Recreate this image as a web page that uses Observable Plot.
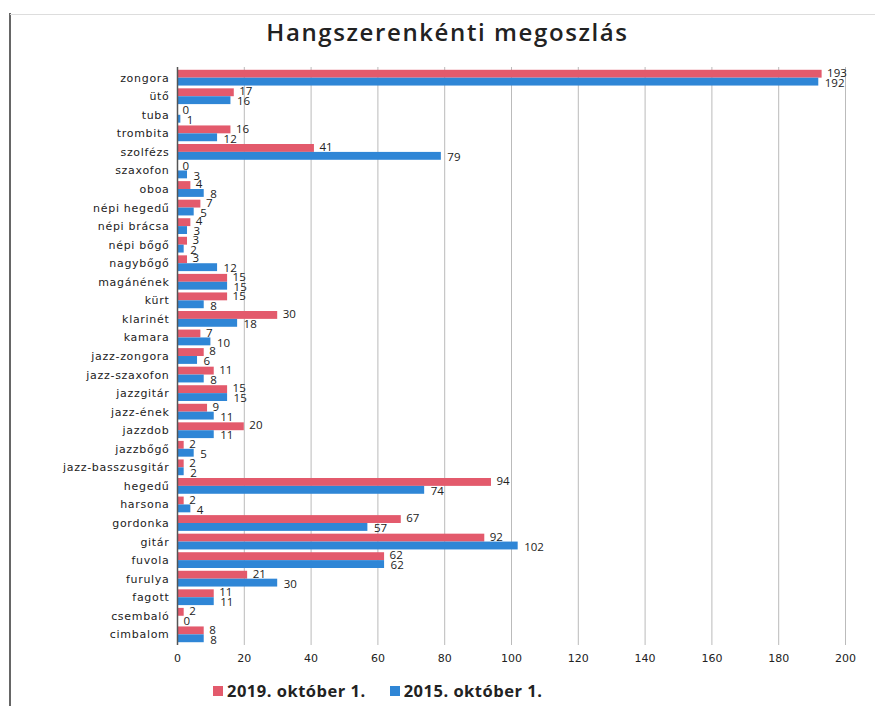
<!DOCTYPE html>
<html><head><meta charset="utf-8">
<script src="https://cdn.jsdelivr.net/npm/d3@7"></script>
<script src="https://cdn.jsdelivr.net/npm/@observablehq/plot@0.6"></script>
<style>
body{margin:0;background:#fff;width:875px;height:706px;overflow:hidden;position:relative;font-family:"Open Sans",sans-serif}
#frameL{position:absolute;left:9px;top:13px;width:2px;height:693px;background:#666}
#frameT{position:absolute;left:10px;top:14px;right:0;height:1px;background:#ddd}
#title{height:50px;box-sizing:border-box;padding-top:18px;padding-left:20px;text-align:center;font-weight:600;font-size:24px;line-height:28px;color:#222;letter-spacing:1.6px}
#chart svg{display:block}
#legend{display:flex;align-items:center;padding-left:213px;height:31px;font-weight:bold;font-size:16.5px;color:#222;letter-spacing:0.5px}
.sw{width:10px;height:10px;display:inline-block;margin-right:4px}
.item{display:flex;align-items:center;margin-right:24px}
</style></head>
<body>
<div id="frameL"></div><div id="frameT"></div>
<div id="title">Hangszerenkénti megoszlás</div>
<div id="chart"></div>
<div id="legend"></div>
<script>
const instruments = ["zongora","ütő","tuba","trombita","szolfézs","szaxofon","oboa","népi hegedű","népi brácsa","népi bőgő","nagybőgő","magánének","kürt","klarinét","kamara","jazz-zongora","jazz-szaxofon","jazzgitár","jazz-ének","jazzdob","jazzbőgő","jazz-basszusgitár","hegedű","harsona","gordonka","gitár","fuvola","furulya","fagott","csembaló","cimbalom"];
const v2019 = [193,17,0,16,41,0,4,7,4,3,3,15,15,30,7,8,11,15,9,20,2,2,94,2,67,92,62,21,11,2,8];
const v2015 = [192,16,1,12,79,3,8,5,3,2,12,15,8,18,10,6,8,15,11,11,5,2,74,4,57,102,62,30,11,0,8];
const seriesNames = ["2019. október 1.","2015. október 1."];
const xTicks = [0,20,40,60,80,100,120,140,160,180,200];
const colors = ["#e35a6c","#2f86d6"];

const rows2019 = instruments.map((k,i)=>({instrument:k, value:v2019[i]}));
const rows2015 = instruments.map((k,i)=>({instrument:k, value:v2015[i]}));

const chart = Plot.plot({
  width: 875, height: 625,
  marginLeft: 177, marginRight: 30, marginTop: 17, marginBottom: 30,
  x: {domain:[0,200], ticks: xTicks, tickSize:0, tickPadding: 9, label:null},
  y: {domain: instruments, padding: 0.15, round: false, tickSize: 0, tickPadding: 8, label: null},
  style: {fontFamily:"DejaVu Sans", fontSize:"11px", color:"#222", background:"white"},
  marks: [
    Plot.ruleX(xTicks.slice(1), {stroke:"#bbb", strokeWidth:1}),
    Plot.barX(rows2019, {y:"instrument", x:"value", fill: colors[0], insetBottom: 7.9}),
    Plot.barX(rows2015, {y:"instrument", x:"value", fill: colors[1], insetTop: 7.9}),
    Plot.ruleX([0], {stroke:"#555", strokeWidth:1.5}),
    Plot.text(rows2019, {y:"instrument", x:"value", text:"value", textAnchor:"start", dx:5, dy:-5, fontSize:11.5, fontFamily:"Open Sans", fill:"#222"}),
    Plot.text(rows2015, {y:"instrument", x:"value", text:"value", textAnchor:"start", dx:6, dy:5, fontSize:11.5, fontFamily:"Open Sans", fill:"#222"})
  ]
});
chart.querySelectorAll('g[aria-label="y-axis tick label"] text').forEach(t=>t.setAttribute("letter-spacing","0.7"));
document.getElementById("chart").append(chart);

const leg = document.getElementById("legend");
seriesNames.forEach((n,i)=>{
  const it = document.createElement("span"); it.className="item";
  const sw = document.createElement("span"); sw.className="sw"; sw.style.background=colors[i];
  it.append(sw, document.createTextNode(n));
  leg.append(it);
});
</script>
</body></html>
